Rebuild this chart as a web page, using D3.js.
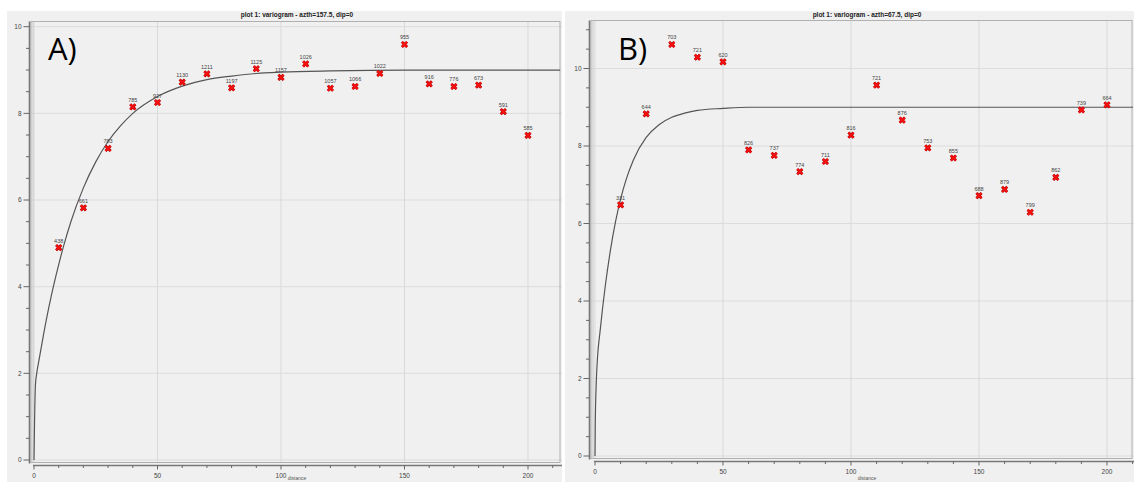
<!DOCTYPE html>
<html>
<head>
<meta charset="utf-8">
<script src="https://cdn.jsdelivr.net/npm/d3@7"></script>
<style>
  body { margin: 0; background: #fff; }
  text { font-family: "Liberation Sans", Arial, sans-serif; }
</style>
</head>
<body>
<div id="chart"></div>
<script>
// experimental variogram, lags every 10
var lags = [10, 20, 30, 40, 50, 60, 70, 80, 90, 100, 110, 120, 130, 140, 150, 160, 170, 180, 190, 200];

var gammaA = [4.90, 5.82, 7.19, 8.15, 8.25, 8.72, 8.91, 8.59, 9.03, 8.83, 9.14, 8.58, 8.62, 8.92, 9.59, 8.68, 8.62, 8.65, 8.04, 7.49];
var pairsA = [438, 661, 783, 785, 927, 1130, 1211, 1197, 1125, 1157, 1026, 1057, 1066, 1022, 955, 916, 776, 673, 591, 585];

var gammaB = [6.48, 8.83, 10.62, 10.29, 10.17, 7.90, 7.76, 7.34, 7.60, 8.28, 9.57, 8.67, 7.95, 7.69, 6.72, 6.88, 6.29, 7.19, 8.93, 9.06];
var pairsB = [331, 644, 703, 721, 620, 826, 737, 774, 711, 816, 721, 876, 753, 855, 688, 879, 799, 862, 739, 664];

// model curves
var modelDistA = [0, 0.2, 0.6, 1, 2, 4, 6, 8, 10, 12, 15, 20, 25, 30, 35, 40, 50, 60, 70, 80, 90, 100, 120, 150, 213];
var modelA     = [0, 0.8, 1.75, 1.96, 2.30, 2.94, 3.52, 4.04, 4.51, 4.94, 5.51, 6.28, 6.88, 7.35, 7.71, 8.00, 8.39, 8.63, 8.78, 8.86, 8.92, 8.95, 8.98, 9.0, 9.0];

var modelDistB = [0, 0.1, 0.5, 1, 2, 3, 4, 6, 8, 10, 12, 15, 20, 25, 30, 35, 40, 50, 60, 213];
var modelB     = [0, 0.8, 1.9, 2.56, 3.23, 3.84, 4.38, 5.30, 6.04, 6.63, 7.10, 7.64, 8.22, 8.55, 8.74, 8.85, 8.92, 8.97, 9.0, 9.0];

var xTicks = [0, 50, 100, 150, 200];
var xMinor = d3.range(0, 215, 10);
var yTicks = [0, 2, 4, 6, 8, 10];
var yMinor = d3.range(0, 11.5, 0.5);

var svg = d3.select('#chart').append('svg')
    .attr('width', 1134)
    .attr('height', 482);

svg.append('rect').attr('width', 1134).attr('height', 482).attr('fill', '#fff');

function drawPanel(p) {
  var g = svg.append('g');
  var x = d3.scaleLinear().domain([0, 213]).range([p.x0, p.x200 + (p.x200 - p.x0) * 13 / 200]);
  var y = d3.scaleLinear().domain([0, 10]).range([p.y0, p.y10]);
  var yTop = y.invert(p.boxTop);

  g.append('rect')
    .attr('x', p.bgLeft).attr('y', 11)
    .attr('width', p.bgRight - p.bgLeft).attr('height', 480)
    .attr('fill', '#f0f0f0');

  g.append('text')
    .attr('x', p.titleX).attr('y', 17)
    .attr('text-anchor', 'middle')
    .style('font-size', '6.5px').style('font-weight', 'bold').attr('fill', '#222')
    .text(p.title);

  var clipId = 'clip' + p.name;
  svg.append('clipPath').attr('id', clipId)
    .append('rect')
    .attr('x', p.boxLeft).attr('y', p.boxTop)
    .attr('width', p.bgRight - p.boxLeft - 1).attr('height', p.boxBottom - p.boxTop);

  // grid
  g.append('g').selectAll('line').data(xTicks).enter().append('line')
    .attr('x1', function(d) { return x(d); }).attr('x2', function(d) { return x(d); })
    .attr('y1', p.boxTop).attr('y2', p.boxBottom)
    .attr('stroke', '#d9d9d9').attr('stroke-width', 1);
  g.append('g').selectAll('line').data(yTicks.filter(function(d) { return d <= yTop; })).enter().append('line')
    .attr('x1', p.boxLeft).attr('x2', p.bgRight)
    .attr('y1', function(d) { return y(d); }).attr('y2', function(d) { return y(d); })
    .attr('stroke', '#dcdcdc').attr('stroke-width', 1);

  // plot frame
  g.append('rect')
    .attr('x', p.boxLeft).attr('y', p.boxTop)
    .attr('width', p.bgRight - p.boxLeft - 2).attr('height', p.boxBottom - p.boxTop)
    .attr('fill', 'none').attr('stroke', '#b0b0b0').attr('stroke-width', 1);
  g.append('line')
    .attr('x1', p.boxLeft + 2).attr('x2', p.boxLeft + 2)
    .attr('y1', p.boxTop).attr('y2', p.boxBottom)
    .attr('stroke', '#c8c8c8').attr('stroke-width', 1);

  // y axis
  g.append('line')
    .attr('x1', p.yAxisX).attr('x2', p.yAxisX)
    .attr('y1', p.boxTop).attr('y2', p.boxBottom + 1)
    .attr('stroke', '#777').attr('stroke-width', 1.6);
  g.append('g').selectAll('line').data(yMinor.filter(function(d) { return d <= yTop; })).enter().append('line')
    .attr('x1', function(d) { return p.yAxisX - (d % 2 === 0 ? 6 : 3.5); }).attr('x2', p.yAxisX)
    .attr('y1', function(d) { return y(d); }).attr('y2', function(d) { return y(d); })
    .attr('stroke', '#666').attr('stroke-width', 1);
  g.append('g').selectAll('text').data(yTicks).enter().append('text')
    .attr('x', p.yAxisX - 8).attr('y', function(d) { return y(d) + 2.2; })
    .attr('text-anchor', 'end')
    .style('font-size', '6.5px').attr('fill', '#444')
    .text(function(d) { return d; });

  // x axis
  g.append('line')
    .attr('x1', p.x0 - 1).attr('x2', p.bgRight)
    .attr('y1', p.xAxisY).attr('y2', p.xAxisY)
    .attr('stroke', '#777').attr('stroke-width', 1.6);
  g.append('g').selectAll('line').data(xMinor).enter().append('line')
    .attr('x1', function(d) { return x(d); }).attr('x2', function(d) { return x(d); })
    .attr('y1', p.xAxisY).attr('y2', function(d) { return p.xAxisY + (d % 50 === 0 ? 4 : 2.5); })
    .attr('stroke', '#666').attr('stroke-width', 1);
  g.append('g').selectAll('text').data(xTicks).enter().append('text')
    .attr('x', function(d) { return x(d); }).attr('y', p.xAxisY + 12)
    .attr('text-anchor', 'middle')
    .style('font-size', '6.5px').attr('fill', '#444')
    .text(function(d) { return d; });
  g.append('text')
    .attr('x', p.titleX).attr('y', Math.min(p.xAxisY + 18, 480))
    .attr('text-anchor', 'middle')
    .style('font-size', '5px').attr('fill', '#555')
    .text('distance');

  // model
  var line = d3.line()
    .x(function(d) { return x(d[0]); })
    .y(function(d) { return y(d[1]); })
    .curve(d3.curveMonotoneX);
  g.append('path')
    .datum(d3.zip(p.modelDist, p.model))
    .attr('clip-path', 'url(#' + clipId + ')')
    .attr('d', line)
    .attr('fill', 'none').attr('stroke', '#555').attr('stroke-width', 1.2);

  // points
  var pts = g.append('g').selectAll('g').data(d3.zip(lags, p.gamma, p.pairs)).enter().append('g')
    .attr('transform', function(d) { return 'translate(' + x(d[0]) + ',' + y(d[1]) + ')'; });
  var cross = 'M-2.6,-2.6L2.6,2.6M-2.6,2.6L2.6,-2.6';
  pts.append('path').attr('d', cross).attr('stroke', '#b00000').attr('stroke-width', 2.8);
  pts.append('path').attr('d', cross).attr('stroke', '#ff1010').attr('stroke-width', 1.6);
  pts.append('text')
    .attr('y', -5)
    .attr('text-anchor', 'middle')
    .style('font-size', '5.5px').attr('fill', '#444')
    .text(function(d) { return d[2]; });

  g.append('text')
    .attr('x', p.tagX).attr('y', 60)
    .style('font-size', '31px').attr('fill', '#000')
    .style('font-family', '"Open Sans", sans-serif')
    .text(p.name + ')');
}

drawPanel({
  name: 'A', title: 'plot 1:  variogram - azth=157.5, dip=0',
  bgLeft: 7, bgRight: 562, titleX: 297,
  x0: 34, x200: 528, y0: 460, y10: 26.7,
  boxLeft: 31, boxTop: 21.5, boxBottom: 462.5,
  yAxisX: 29.5, xAxisY: 465.5, tagX: 48,
  gamma: gammaA, pairs: pairsA, modelDist: modelDistA, model: modelA
});

drawPanel({
  name: 'B', title: 'plot 1:  variogram - azth=67.5, dip=0',
  bgLeft: 565, bgRight: 1134, titleX: 867,
  x0: 595, x200: 1107, y0: 456, y10: 68.5,
  boxLeft: 591, boxTop: 20.5, boxBottom: 458.5,
  yAxisX: 589.5, xAxisY: 461.5, tagX: 618,
  gamma: gammaB, pairs: pairsB, modelDist: modelDistB, model: modelB
});
</script>
</body>
</html>
